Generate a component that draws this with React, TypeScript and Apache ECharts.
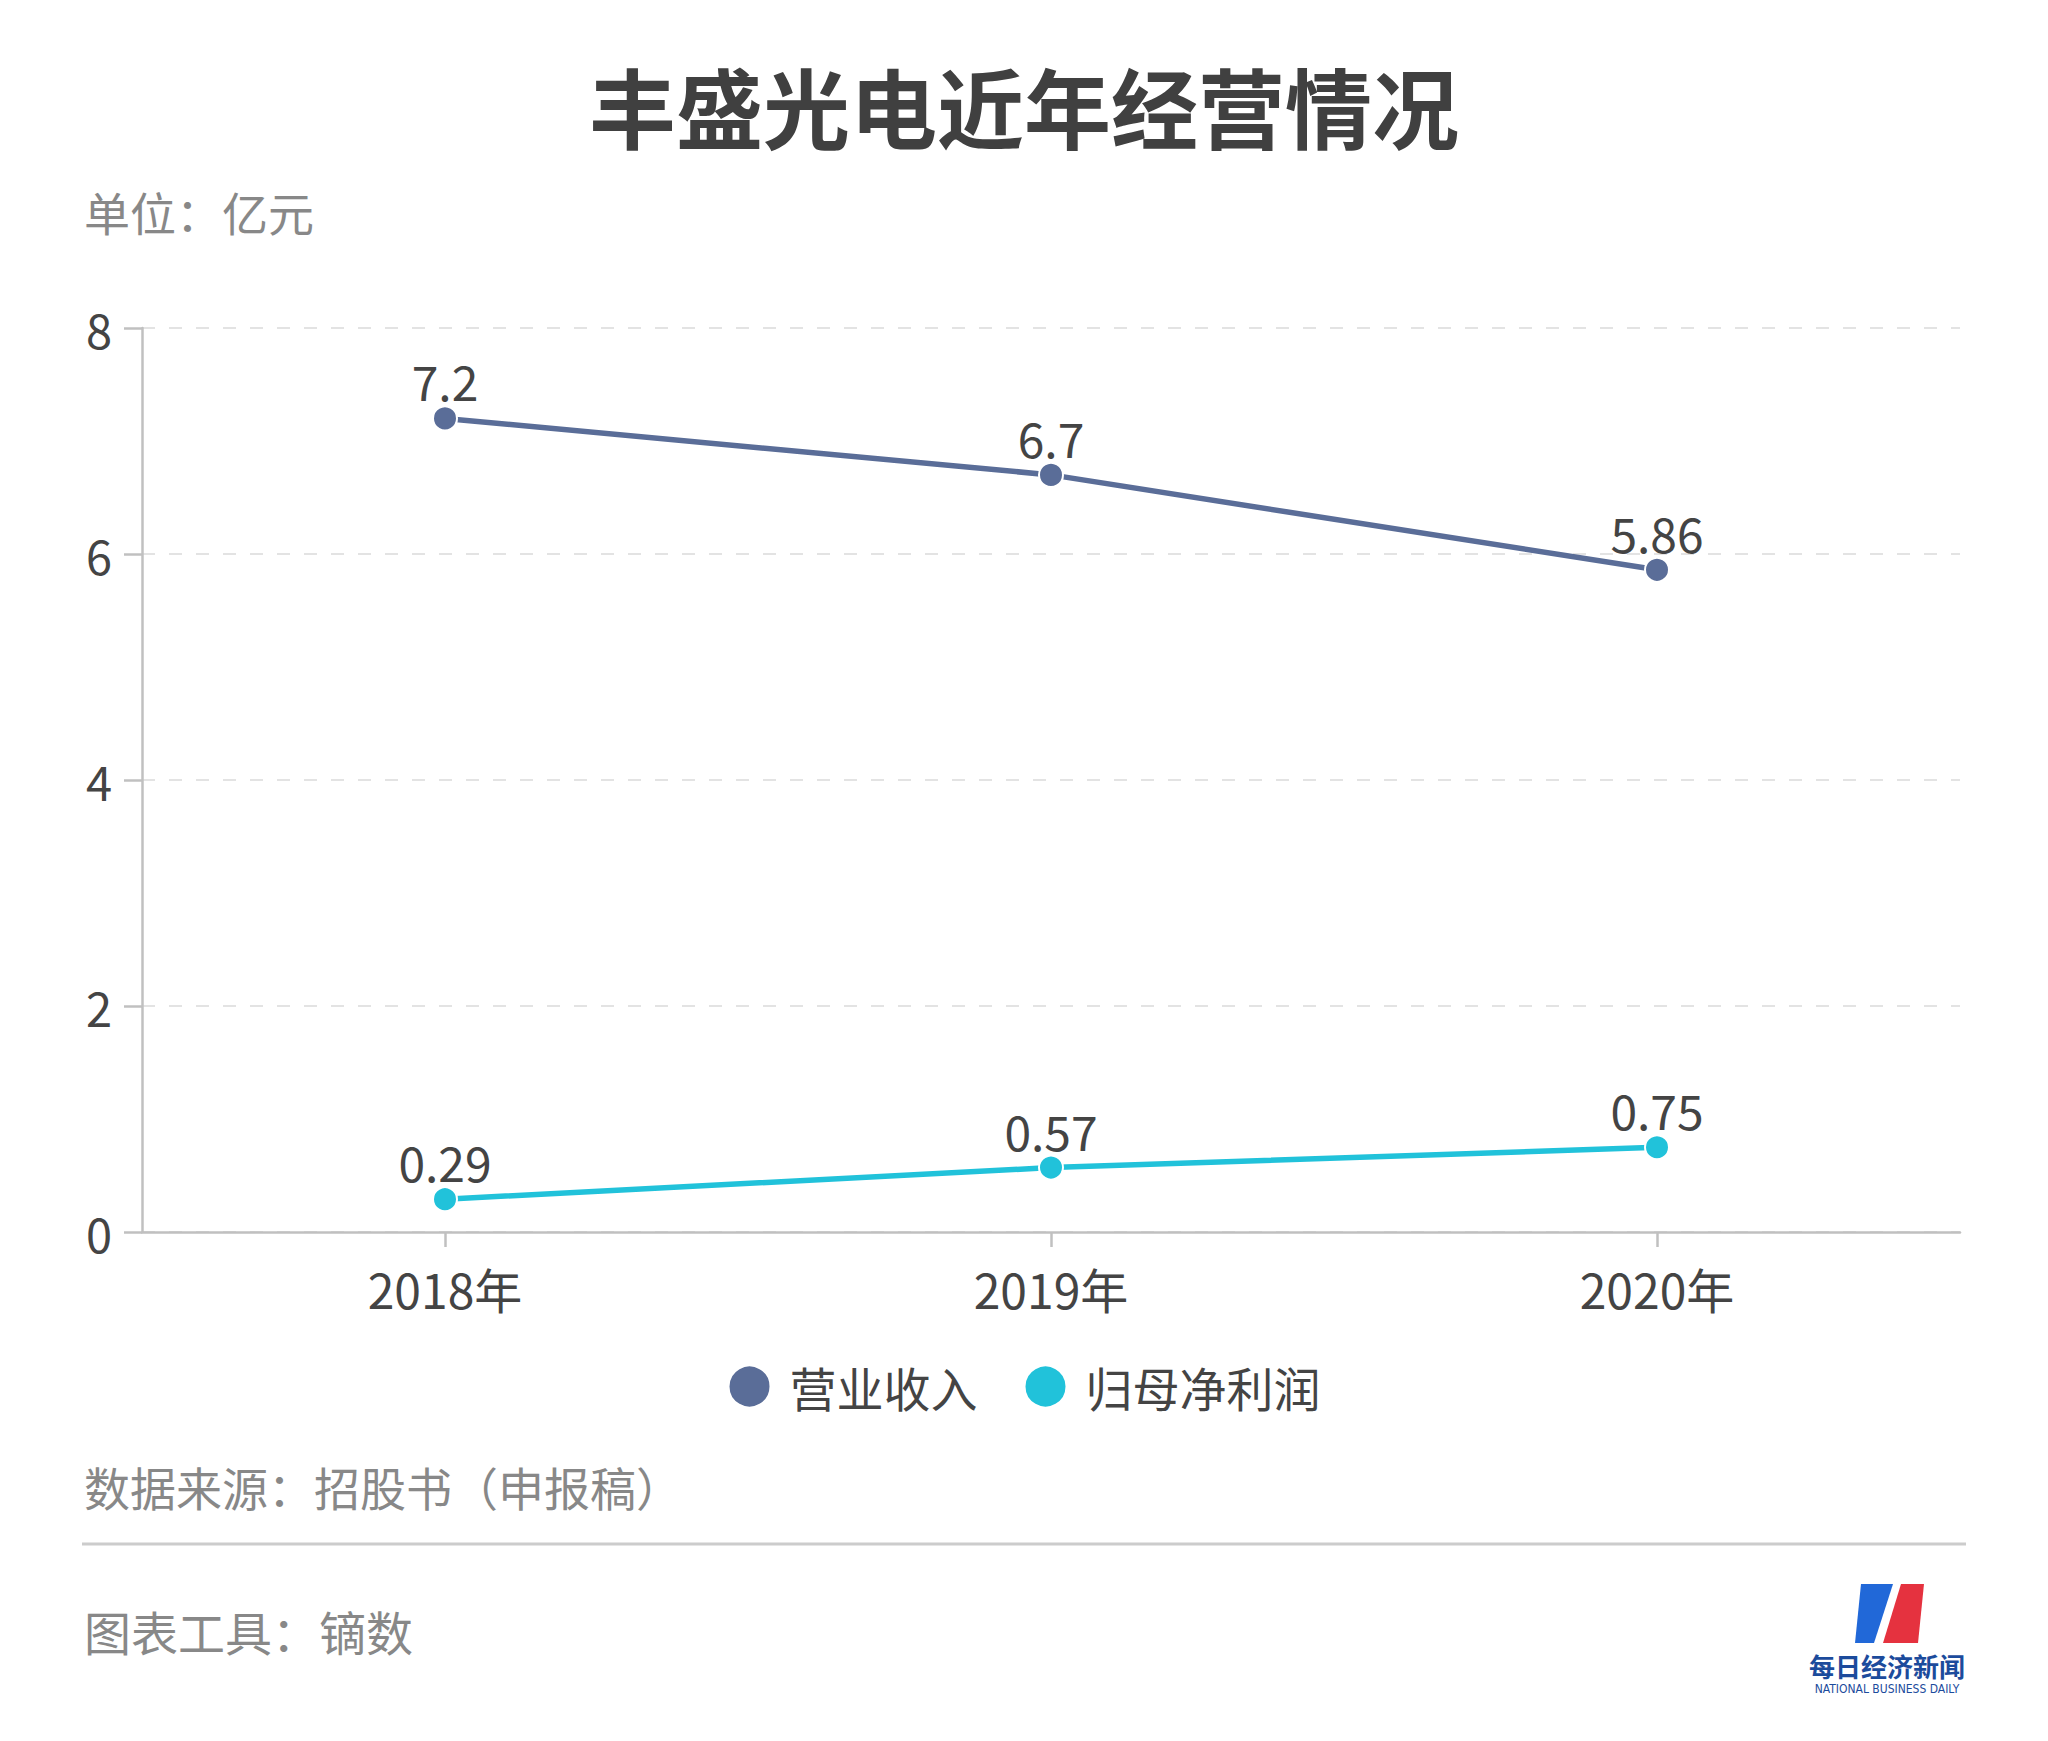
import React, { useEffect, useRef } from "react";
import * as echarts from "echarts";

const categories = ["2018年", "2019年", "2020年"];
const revenue = [7.2, 6.7, 5.86];
const netProfit = [0.29, 0.57, 0.75];
const seriesNames = ["营业收入", "归母净利润"];
const yMin = 0;
const yMax = 8;
const yInterval = 2;

const FONT = '"Noto Sans CJK SC", "Noto Sans", sans-serif';
const TEXT = "#444444";
const GREY = "#888888";
const C1 = "#5a6d98";
const C2 = "#21c2da";

export default function App() {
  const ref = useRef<HTMLDivElement>(null);
  useEffect(() => {
    document.body.style.margin = "0";
    const chart = echarts.init(ref.current!, null, { renderer: "svg" });
    const lineSeries = (name: string, data: number[], color: string) => ({
      name,
      type: "line",
      data,
      symbol: "circle",
      symbolSize: 24,
      lineStyle: { color, width: 5.5 },
      itemStyle: { color, borderColor: "#ffffff", borderWidth: 2 },
      label: {
        show: true,
        position: "top",
        distance: 1,
        fontSize: 48,
        color: TEXT,
        fontFamily: FONT,
      },
      emphasis: { disabled: true },
    });
    chart.setOption({
      animation: false,
      backgroundColor: "#ffffff",
      textStyle: { fontFamily: FONT },
      title: [
        {
          text: "丰盛光电近年经营情况",
          left: "center",
          top: 56,
          textStyle: { fontSize: 87, fontWeight: "bold", color: "#404040", fontFamily: FONT },
        },
      ],
      legend: {
        data: seriesNames,
        left: "center",
        top: 1358,
        icon: "circle",
        itemWidth: 42,
        itemHeight: 42,
        itemGap: 46,
        textStyle: { fontSize: 47, color: TEXT, fontFamily: FONT, padding: [0, 0, 0, 14] },
      },
      grid: { left: 142, right: 88, top: 328, bottom: 509, containLabel: false },
      xAxis: {
        type: "category",
        data: categories,
        boundaryGap: true,
        axisLine: { show: true, lineStyle: { color: "#c0c0c0", width: 2.5 } },
        axisTick: { show: true, alignWithLabel: true, length: 15, lineStyle: { color: "#c0c0c0", width: 2.5 } },
        axisLabel: { fontSize: 48, color: TEXT, margin: 32, fontFamily: FONT },
        splitLine: { show: false },
      },
      yAxis: {
        type: "value",
        min: yMin,
        max: yMax,
        interval: yInterval,
        axisLine: { show: true, lineStyle: { color: "#c0c0c0", width: 2.5 } },
        axisTick: { show: true, length: 18, lineStyle: { color: "#c0c0c0", width: 2.5 } },
        axisLabel: { fontSize: 47, color: TEXT, margin: 30, fontFamily: FONT },
        splitLine: { show: true, lineStyle: { color: "#e3e3e3", width: 2, type: [13, 14] } },
      },
      series: [lineSeries(seriesNames[0], revenue, C1), lineSeries(seriesNames[1], netProfit, C2)],
      graphic: [
        {
          type: "text",
          left: 84,
          top: 188,
          style: { text: "单位：亿元", fontSize: 46, fill: GREY, fontFamily: FONT },
        },
        {
          type: "text",
          left: 84,
          top: 1463,
          style: { text: "数据来源：招股书（申报稿）", fontSize: 46, fill: GREY, fontFamily: FONT },
        },
        {
          type: "line",
          shape: { x1: 82, y1: 1544, x2: 1966, y2: 1544 },
          style: { stroke: "#cccccc", lineWidth: 3 },
        },
        {
          type: "text",
          left: 84,
          top: 1607,
          style: { text: "图表工具：镝数", fontSize: 47, fill: GREY, fontFamily: FONT },
        },
        {
          type: "polygon",
          shape: { points: [[1861, 1584], [1893, 1584], [1874, 1643], [1855, 1643]] },
          style: { fill: "#2168d8" },
        },
        {
          type: "polygon",
          shape: { points: [[1901, 1584], [1924, 1584], [1918, 1643], [1883, 1643]] },
          style: { fill: "#e5323f" },
        },
        {
          type: "text",
          x: 1887,
          y: 1665,
          style: {
            text: "每日经济新闻",
            fontSize: 26,
            fontWeight: "bold",
            fill: "#1c4b9c",
            fontFamily: FONT,
            align: "center",
            verticalAlign: "middle",
          },
        },
        {
          type: "text",
          x: 1887,
          y: 1689,
          style: {
            text: "NATIONAL BUSINESS DAILY",
            fontSize: 12,
            fill: "#1c4b9c",
            fontFamily: '"Liberation Sans Narrow", "DejaVu Sans Condensed", sans-serif',
            align: "center",
            verticalAlign: "middle",
          },
        },
      ],
    });
    return () => chart.dispose();
  }, []);
  return <div ref={ref} style={{ width: 2048, height: 1741 }} />;
}
